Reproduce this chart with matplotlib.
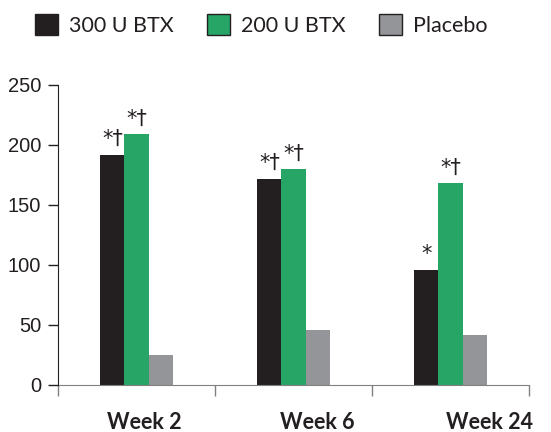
import matplotlib
matplotlib.use("Agg")
import matplotlib.pyplot as plt
from matplotlib.patches import Patch
import numpy as np

plt.rcParams['font.family'] = ['Lato', 'DejaVu Sans']

weeks = ["Week 2", "Week 6", "Week 24"]
series_names = ["300 U BTX", "200 U BTX", "Placebo"]
btx300 = [192, 172, 96]
btx200 = [209, 180, 168]
placebo = [25, 46, 42]
marks300 = ["*†", "*†", "*"]
marks200 = ["*†", "*†", "*†"]
yticks = [0, 50, 100, 150, 200, 250]

colors = ["#231f20", "#26a567", "#939598"]

fig = plt.figure(figsize=(5.51, 4.32), dpi=100)
ax = fig.add_axes([58/551, 1-385/432, (529-58)/551, 300/432])

x = np.arange(len(weeks))
w = 0.153
series = [btx300, btx200, placebo]
for i, (vals, c) in enumerate(zip(series, colors)):
    ax.bar(x + (i-1)*w, vals, width=w, color=c, linewidth=0, zorder=2)

for xi, v, m in zip(x - w, btx300, marks300):
    ax.annotate(m, (xi, v), xytext=(0, 4), textcoords="offset points",
                ha="center", va="bottom", fontsize=15, color="#231f20",
                family=['DejaVu Sans'])
for xi, v, m in zip(x, btx200, marks200):
    ax.annotate(m, (xi, v), xytext=(0, 4), textcoords="offset points",
                ha="center", va="bottom", fontsize=15, color="#231f20",
                family=['DejaVu Sans'])

ax.set_xlim(-0.5, 2.5)
ax.set_ylim(0, 250)
ax.set_yticks(yticks)
ax.set_yticklabels([str(t) for t in yticks], fontsize=14.5, color="#231f20",
                   family=['Liberation Sans'])
ax.tick_params(axis='y', direction='out', length=7, width=1, color="#231f20", pad=5)
ax.set_xticks([-0.5, 0.5, 1.5, 2.5])
ax.set_xticklabels([])
ax.tick_params(axis='x', direction='out', length=8, width=1, color="#808080")

for s in ["top", "right"]:
    ax.spines[s].set_visible(False)
ax.spines["left"].set_color("#231f20")
ax.spines["bottom"].set_color("#808080")
ax.spines["left"].set_zorder(3)

label_x = [0.05, 1.15, 2.25]
for lx, lab in zip(label_x, weeks):
    ax.text(lx, -0.125, lab, transform=ax.get_xaxis_transform(), ha="center",
            va="center", fontsize=15.5, fontweight="bold", color="#231f20")

handles = [Patch(facecolor=c, edgecolor="#231f20", linewidth=1) for c in colors]
fig.legend(handles, series_names, loc="center left", bbox_to_anchor=(29/551, 1-25/432),
           ncol=3, frameon=False, fontsize=15.5, handlelength=1.07, handleheight=1.1,
           handletextpad=0.5, columnspacing=1.55, labelcolor="#231f20",
           borderaxespad=0, borderpad=0.3)

fig.savefig("out.png", dpi=100)
